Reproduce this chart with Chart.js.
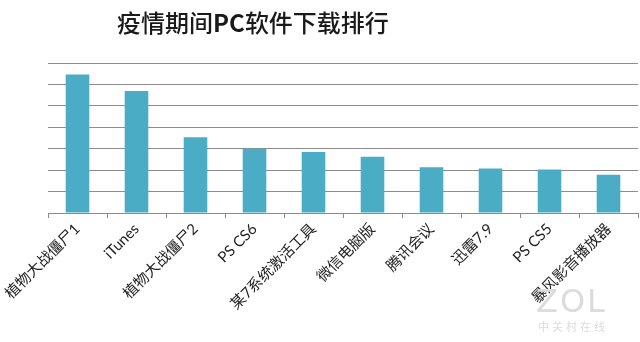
<!DOCTYPE html>
<html>
<head>
<meta charset="utf-8">
<script src="https://cdn.jsdelivr.net/npm/chart.js@4/dist/chart.umd.min.js"></script>
<style>
  html, body { margin: 0; padding: 0; background: #fff; }
  #wrap { position: relative; width: 640px; height: 342px; }
  #title {
    position: absolute; left: 0; top: 4px; width: 506px; text-align: center;
    font-family: 'Noto Sans CJK SC', sans-serif; font-size: 24px; font-weight: 500; color: #1a1a1a;
  }
  #title b { font-weight: 700; }
  .wm { position: absolute; color: #dcdcdc; font-family: 'DejaVu Sans', sans-serif; }
</style>
</head>
<body>
<div id="wrap">
  <canvas id="downloadChart" width="640" height="342"></canvas>
  <div id="title">疫情期间<b>PC</b>软件下载排行</div>
  <div class="wm" style="left:536px; top:282px; font-size:32px; letter-spacing:2px;">ZOL</div>
  <div class="wm" style="left:538px; top:318px; font-size:11px; letter-spacing:3px; font-family:'Noto Sans CJK SC';">中关村在线</div>
</div>
<script>
// Software names (x categories) and relative download level
const softwareNames = ['植物大战僵尸1', 'iTunes', '植物大战僵尸2', 'PS CS6', '某7系统激活工具',
                       '微信电脑版', '腾讯会议', '迅雷7.9', 'PS CS5', '暴风影音播放器'];
const downloadLevels = [6.46, 5.69, 3.53, 3.0, 2.85, 2.63, 2.13, 2.08, 2.03, 1.78];
const yMax = 7;

const lineGray = '#8c8c8c';

new Chart(document.getElementById('downloadChart'), {
    type: 'bar',
    data: {
        labels: softwareNames,
        datasets: [{
            data: downloadLevels,
            backgroundColor: '#4bacc6',
            borderWidth: 0,
            categoryPercentage: 0.4,
            barPercentage: 1.0
        }]
    },
    options: {
        responsive: false,
        animation: false,
        layout: { padding: { left: 48, right: 2, top: 63, bottom: 0 } },
        plugins: { legend: { display: false }, tooltip: { enabled: false } },
        scales: {
            x: {
                grid: { offset: true, drawOnChartArea: false, tickLength: 5, color: lineGray },
                border: { display: true, color: lineGray },
                ticks: {
                    autoSkip: false, maxRotation: 45, minRotation: 45, padding: 2, color: '#222',
                    font: { family: "Lato, 'Noto Sans CJK SC', sans-serif", size: 15 }
                },
                afterFit: (scale) => { scale.height = 129; }
            },
            y: {
                min: 0, max: yMax,
                ticks: { display: false, stepSize: 1 },
                grid: { color: lineGray, drawTicks: false },
                border: { display: false },
                afterFit: (scale) => { scale.width = 0; }
            }
        }
    }
});
</script>
</body>
</html>
